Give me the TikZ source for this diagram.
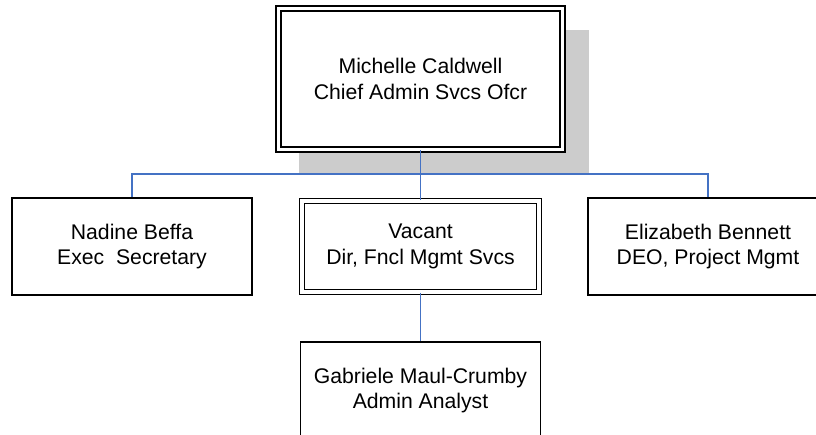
\documentclass[tikz,border=0pt]{standalone}
\usepackage{fontspec}
\setmainfont{Liberation Sans}
\usepackage{xcolor}
\definecolor{linkblue}{HTML}{4472C4}
\definecolor{shadowgray}{HTML}{CCCCCC}

\begin{document}
\begin{tikzpicture}
            [x=1pt,y=-1pt,
             person/.style={rectangle,draw,line width=1.8pt,fill=white,align=center,
               minimum width=240pt,minimum height=97pt,inner sep=0pt,
               font=\fontsize{21.2}{25.8}\selectfont},
             head/.style={person,double,double distance=3.2pt,line width=1.7pt},
             link/.style={draw=linkblue,line width=1.8pt}]
            \clip (0,0) rectangle (816,435);
            \fill[shadowgray] (299,30) rectangle (589,174);
            \node[head,minimum width=284pt,minimum height=141pt] (boss) at (420.5,79) {Michelle Caldwell\\Chief Admin Svcs Ofcr};
            \node[person] (nadine) at (132,246.5) {Nadine Beffa\\Exec\ \ Secretary};
            \node[head,minimum width=237pt,minimum height=91pt] (vacant) at (420.5,246.5) {Vacant\\Dir, Fncl Mgmt Svcs};
            \node[person] (eliz) at (708,246.5) {Elizabeth Bennett\\DEO, Project Mgmt};
            \node[person] (analyst) at (420.5,390.5) {Gabriele Maul-Crumby\\Admin Analyst};
            \coordinate (bus) at (420.5,174);
            
            \draw[link] (boss.south) -- (bus);
            \draw[link] (bus) -| (nadine.north);
            \draw[link] (bus) -| (eliz.north);
            \draw[link] (bus) -- (vacant.north);
            \draw[link] (vacant.south) -- (analyst.north);
          \end{tikzpicture}
\end{document}
